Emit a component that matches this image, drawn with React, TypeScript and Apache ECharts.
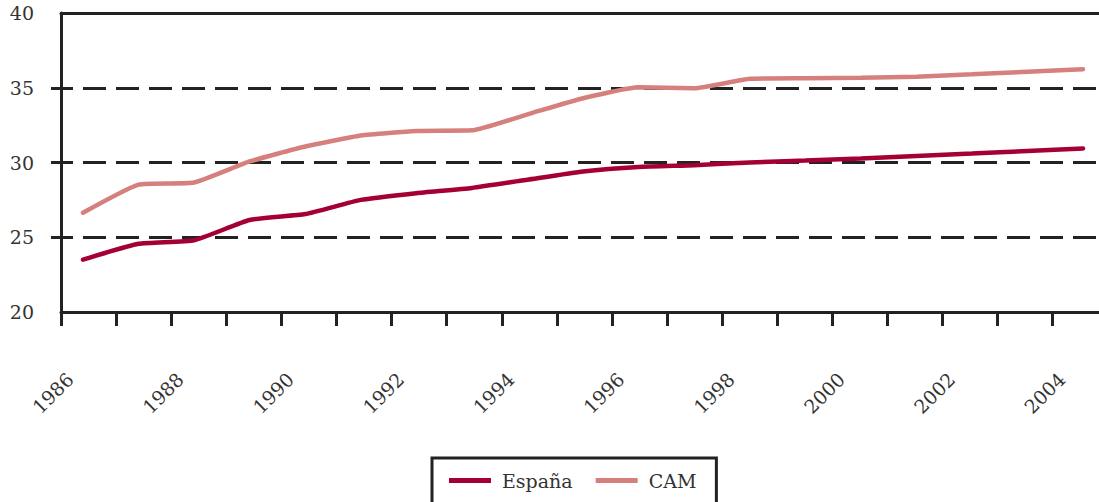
import React, { useEffect, useRef } from "react";
import * as echarts from "echarts";

const years = [1986, 1987, 1988, 1989, 1990, 1991, 1992, 1993, 1994, 1995, 1996, 1997, 1998, 1999, 2000, 2001, 2002, 2003, 2004];
const espana = [23.5, 24.56, 24.8, 26.15, 26.55, 27.5, 27.95, 28.3, 28.85, 29.4, 29.7, 29.82, 30.0, 30.13, 30.27, 30.44, 30.6, 30.77, 30.94];
const cam = [26.64, 28.52, 28.66, 30.07, 31.07, 31.81, 32.11, 32.15, 33.22, 34.3, 35.03, 34.97, 35.6, 35.64, 35.67, 35.74, 35.9, 36.07, 36.24];
const labelYears = [1986, 1988, 1990, 1992, 1994, 1996, 1998, 2000, 2002, 2004];
const yTicks = [25, 30, 35];

const FONT = "DejaVu Serif";
const INK = "#222";

export default function App() {
  const ref = useRef<HTMLDivElement>(null);
  useEffect(() => {
    if (!ref.current) return;
    const chart = echarts.init(ref.current, null, { renderer: "svg" });
    chart.setOption({
      animation: false,
      backgroundColor: "#fff",
      grid: { left: 61, top: 13, right: 0, bottom: 190, containLabel: false },
      legend: {
        left: 432,
        top: 458,
        orient: "horizontal",
        icon: "rect",
        itemWidth: 42,
        itemHeight: 5,
        itemGap: 23,
        borderColor: INK,
        borderWidth: 3,
        borderRadius: 0,
        padding: [13, 20, 30, 17],
        textStyle: { fontFamily: FONT, fontSize: 19, color: "#333", padding: [0, 0, 0, 6] },
        data: ["España", "CAM"],
      },
      xAxis: [
        {
          type: "value",
          position: "top",
          min: 1985.604,
          max: 2004.287,
          axisLine: { show: true, onZero: false, lineStyle: { color: INK, width: 3 } },
          axisTick: { show: false },
          axisLabel: { show: false },
          splitLine: { show: false },
        },
        {
          type: "value",
          position: "bottom",
          min: 1986,
          max: 2004.84,
          interval: 1,
          axisLine: { show: true, onZero: false, lineStyle: { color: INK, width: 3 } },
          axisTick: { show: true, length: 14, customValues: years, lineStyle: { color: INK, width: 3 } },
          axisLabel: { show: false },
          splitLine: { show: false },
        },
        {
          type: "value",
          position: "bottom",
          min: 1985.837,
          max: 2004.676,
          axisLine: { show: false },
          axisTick: { show: false },
          axisLabel: {
            show: true,
            customValues: labelYears,
            rotate: 45,
            margin: 64,
            fontFamily: FONT,
            fontSize: 19,
            color: "#333",
            formatter: (v: number) => String(Math.round(v)),
          },
          splitLine: { show: false },
        },
      ],
      yAxis: {
        type: "value",
        min: 20,
        max: 40,
        interval: 5,
        axisLine: { show: true, onZero: false, lineStyle: { color: INK, width: 3 } },
        axisTick: { show: true, length: 10, customValues: yTicks, lineStyle: { color: INK, width: 3 } },
        axisLabel: { margin: 27, fontFamily: FONT, fontSize: 19, color: "#333" },
        splitLine: { show: true, lineStyle: { color: INK, width: 3, type: [23, 10], dashOffset: 11 } },
      },
      series: [
        {
          name: "España",
          type: "line",
          xAxisIndex: 0,
          data: years.map((y, i) => [y, espana[i]]),
          showSymbol: false,
          smooth: 0.15,
          lineStyle: { color: "#a50034", width: 4.5, cap: "round" },
          itemStyle: { color: "#a50034" },
        },
        {
          name: "CAM",
          type: "line",
          xAxisIndex: 0,
          data: years.map((y, i) => [y, cam[i]]),
          showSymbol: false,
          smooth: 0.15,
          lineStyle: { color: "#d5807c", width: 4.5, cap: "round" },
          itemStyle: { color: "#d5807c" },
        },
      ],
    });
    return () => chart.dispose();
  }, []);
  return (
    <div
      ref={ref}
      style={{ position: "fixed", left: 0, top: 0, width: 1099, height: 502, background: "#fff" }}
    />
  );
}
